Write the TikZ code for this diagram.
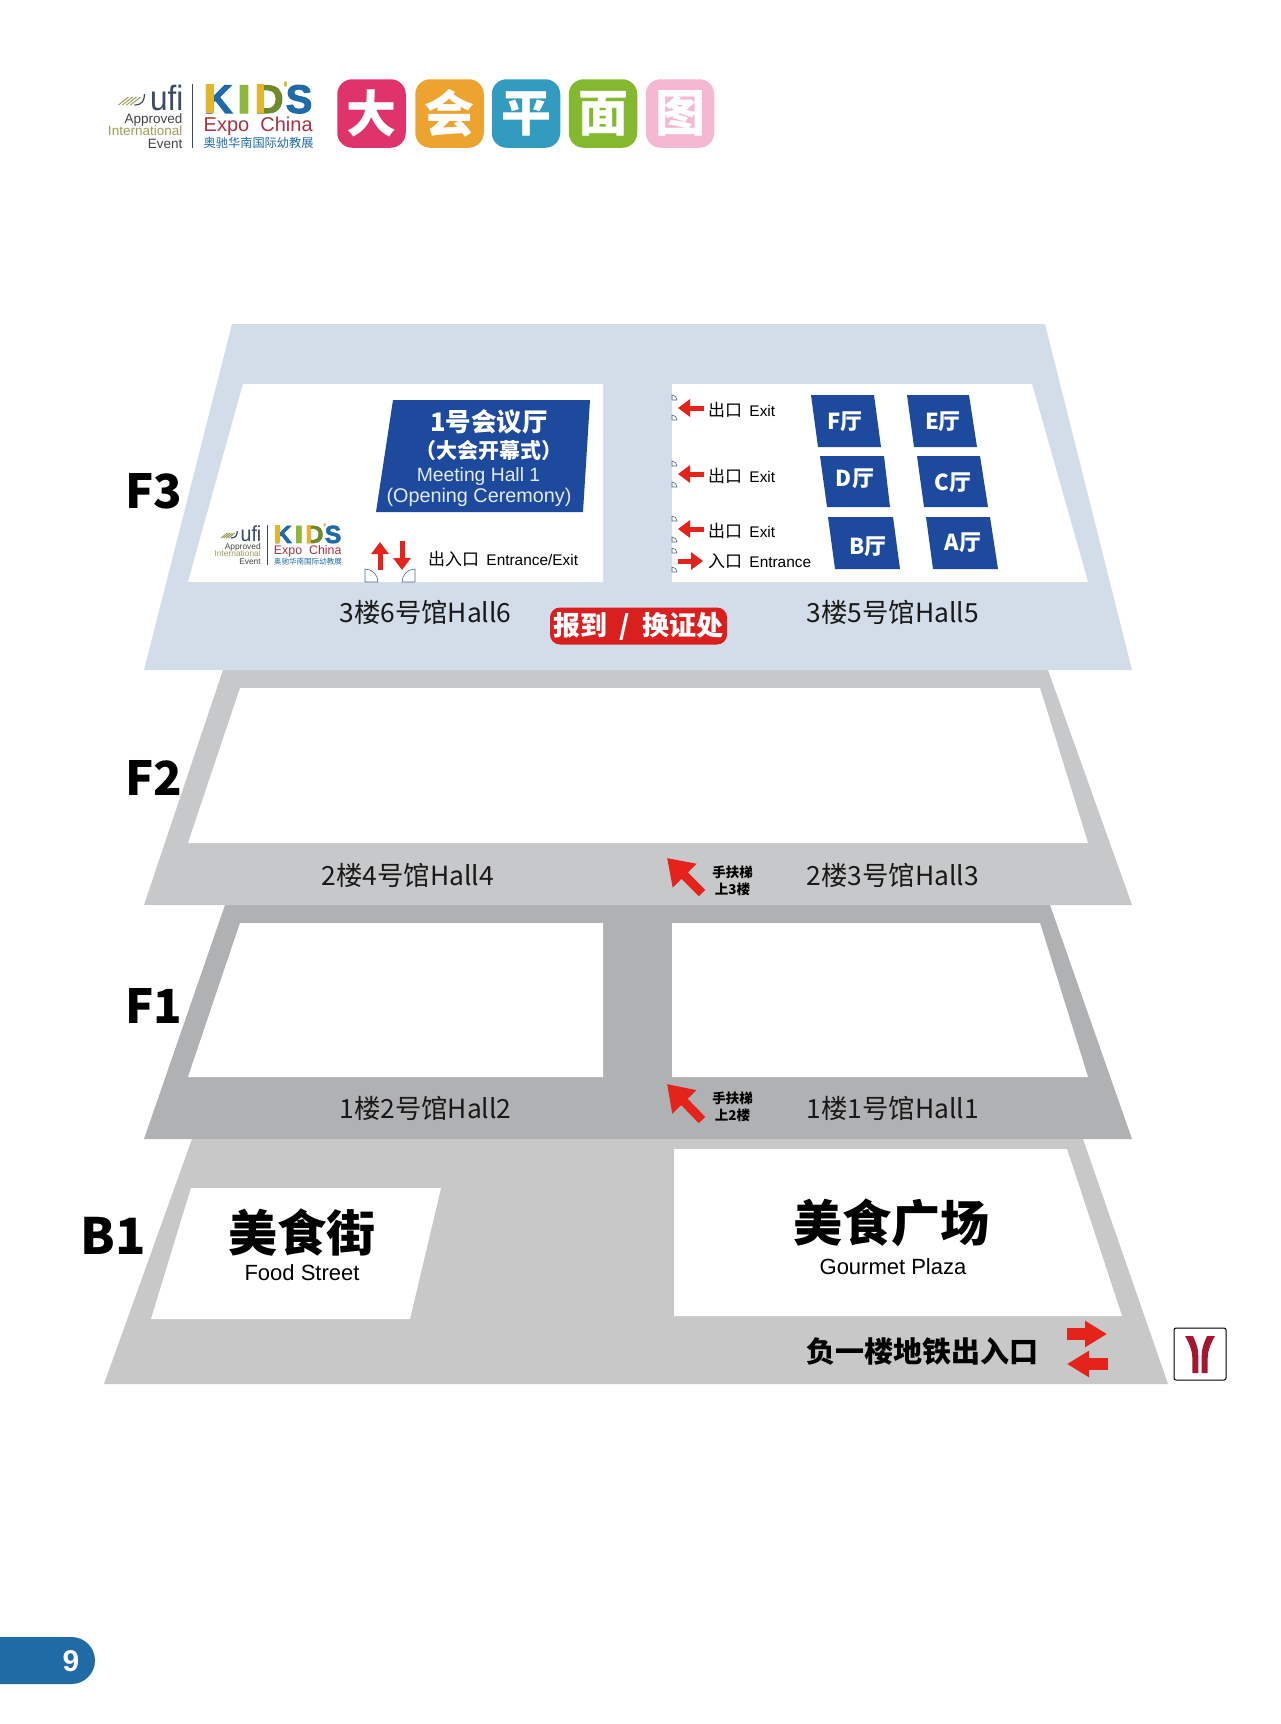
\documentclass[tikz,border=0pt]{standalone}
\usepackage{fontspec}
\setmainfont{Liberation Sans}
\newfontfamily\cjk{Noto Sans CJK SC}
\newfontfamily\logofont[FakeBold=2.5]{Liberation Sans Bold}
\usetikzlibrary{arrows.meta}

\newcommand{\sz}[1]{\fontsize{#1}{#1}\selectfont}

\newcommand{\kidslogo}[3]{%
	\begin{scope}[shift={(#1,#2)},scale=#3,every node/.append style={transform shape,inner sep=0pt}]
		\draw[line width=1pt,color=logoink] (0,0) -- (0,64);
		\draw[line width=1pt,color=logoolive] (-74,21) -- (-64,13);
		\draw[line width=1pt,color=logoolive] (-70,21) -- (-60,13);
		\draw[line width=1pt,color=logoolive] (-66,21) -- (-56,13);
		\draw[line width=1pt,color=logoolive] (-62,21) -- (-52,13);
		\draw[line width=1.2pt,color=logoink] (-58,21) .. controls (-50,21) and (-48,16) .. (-48,10);
		\node[anchor=base east,color=logoink,font=\sz{35},xscale=0.9] (ufi#1) at (-9,26) {ufi};
		\node[anchor=base east,color=logogrey,font=\sz{13.5}] (approved#1) at (-10,39) {Approved};
		\node[anchor=base east,color=logoolive,font=\sz{13.5}] (international#1) at (-10,51.5) {International};
		\node[anchor=base east,color=logogrey,font=\sz{13.5}] (event#1) at (-10,64) {Event};
		\node[anchor=base west,color=logoblue,font=\logofont\sz{40}] (k#1) at (11,29) {K};
		\fill[color=logogold] (13,0) rectangle (21,29);
		\node[anchor=base west,color=logogreen,font=\logofont\sz{40},xscale=1.3] (i#1) at (44,29) {I};
		\node[anchor=base west,color=logostripe,font=\logofont\sz{40}] (d#1) at (62,29) {D};
		\fill[color=logogold] (64,0) rectangle (71,29);
		\node[color=logogold,font=\logofont\sz{18}] (apos#1) at (93,4) {'};
		\node[anchor=base west,color=logoblue,font=\logofont\sz{40}] (s#1) at (93,29) {S};
		\node[anchor=base west,color=logored,font=\sz{20}] (expo#1) at (11,47) {Expo\ \ China};
		\node[anchor=base west,color=logoblue,font=\cjk\sz{12.2}] (south#1) at (11,63) {奥驰华南国际幼教展};
	\end{scope}%
}

\begin{document}
\begin{tikzpicture}[x=1pt,y=-1pt]
	\definecolor{logoink}{HTML}{3A4A68}
	\definecolor{logogrey}{HTML}{444444}
	\definecolor{logoolive}{HTML}{9C9C5C}
	\definecolor{logoblue}{HTML}{1F6BA8}
	\definecolor{logogold}{HTML}{E3B52F}
	\definecolor{logogreen}{HTML}{8DB63C}
	\definecolor{logostripe}{HTML}{6E8A2C}
	\definecolor{logored}{HTML}{A83244}
	\definecolor{floorthree}{HTML}{D3DDE9}
	\definecolor{floortwo}{HTML}{C7C8C9}
	\definecolor{floorone}{HTML}{B0B1B3}
	\definecolor{floorbase}{HTML}{C8C8C8}
	\definecolor{hallblue}{HTML}{1D4A9C}
	\definecolor{signred}{HTML}{E4231B}
	\definecolor{badgered}{HTML}{D9201F}
	\definecolor{doorline}{HTML}{50688A}
	\definecolor{metrored}{HTML}{A3182F}
	\definecolor{pageblue}{HTML}{206AA6}
	\definecolor{tilepink}{HTML}{E0336C}
	\definecolor{tileorange}{HTML}{EDA32F}
	\definecolor{tileblue}{HTML}{339BBF}
	\definecolor{tilegreen}{HTML}{84B82F}
	\definecolor{tilerose}{HTML}{F4B8D3}

	\tikzstyle{every node}=[inner sep=0pt]
	\tikzstyle{room}=[fill=white]
	\tikzstyle{hall}=[fill=hallblue]
	\tikzstyle{floorname}=[font=\cjk\bfseries\sz{47},color=black]
	\tikzstyle{hallname}=[font=\cjk\sz{26.4},color=black!90]
	\tikzstyle{hallletter}=[font=\cjk\bfseries\sz{22},text=white]
	\tikzstyle{tile}=[font=\cjk\bfseries\sz{50},text=white,minimum size=68.5pt,rounded corners=15pt]
	\tikzstyle{door}=[color=doorline,line width=0.6pt]
	\tikzstyle{signarrow}=[color=signred,line width=5pt,-{Triangle[length=12pt,width=17pt]}]
	\tikzstyle{bigarrow}=[color=signred,line width=9pt,-{Triangle[length=25pt,width=32pt]}]
	\tikzstyle{metroarrow}=[color=signred,line width=12pt,-{Triangle[length=22pt,width=25pt]}]

	\useasboundingbox (0,0) rectangle (1280,1724);
	\fill[white] (0,0) rectangle (1280,1724);

	\kidslogo{192.5}{84}{1}
	\node[tile,fill=tilepink] (da) at (371.5,113.5) {大};
	\node[tile,fill=tileorange] (hui) at (449.5,113.5) {会};
	\node[tile,fill=tileblue] (ping) at (526,113.5) {平};
	\node[tile,fill=tilegreen] (mian) at (603,113.5) {面};
	\node[tile,fill=tilerose] (tu) at (680,113.5) {图};

	\fill[floorbase] (192,1139) -- (1083,1139) -- (1168,1384) -- (104,1384) -- cycle;
	\fill[floorone] (225,905) -- (1050,905) -- (1132,1139) -- (144,1139) -- cycle;
	\fill[floortwo] (223,670) -- (1048,670) -- (1132,905) -- (144,905) -- cycle;
	\fill[floorthree] (232,324) -- (1045,324) -- (1132,670) -- (144,670) -- cycle;

	\fill[room] (243,384) -- (603,384) -- (603,582) -- (188,582) -- cycle;
	\fill[room] (672,384) -- (1032,384) -- (1088,582) -- (672,582) -- cycle;
	\fill[room] (240,688) -- (1040,688) -- (1088,843) -- (188,843) -- cycle;
	\fill[room] (240,923) -- (603,923) -- (603,1077) -- (188,1077) -- cycle;
	\fill[room] (672,923) -- (1040,923) -- (1088,1077) -- (672,1077) -- cycle;
	\fill[room] (191,1188) -- (441,1188) -- (410,1319) -- (151,1319) -- cycle;
	\fill[room] (674,1149) -- (1067,1149) -- (1122,1316) -- (674,1316) -- cycle;

	\node[floorname] (f3) at (154,491) {F3};
	\node[floorname] (f2) at (154,778) {F2};
	\node[floorname] (f1) at (154,1006) {F1};
	\node[floorname,font=\cjk\bfseries\sz{50}] (b1) at (113.5,1236) {B1};

	\fill[hall] (393,400) -- (590,400) -- (583,512) -- (376,512) -- cycle;
	\node[font=\cjk\bfseries\sz{25.5},text=white] (meetingzh) at (489,422) {1号会议厅};
	\node[font=\cjk\bfseries\sz{21},text=white] (openingzh) at (489,451) {（大会开幕式）};
	\node[font=\sz{19.3},text=white!88!hallblue] (meetingen) at (478.5,477) {Meeting Hall 1};
	\node[font=\sz{19.8},text=white!88!hallblue] (openingen) at (479,497) {(Opening Ceremony)};

	\kidslogo{267}{525}{0.62}

	\draw[signarrow] (380,570) -- (380,542);
	\draw[signarrow] (402,541) -- (402,570);
	\draw[door] (365,582) -- (365,569) arc[start angle=90,end angle=0,radius=13pt] -- cycle;
	\draw[door] (415,582) -- (415,569) arc[start angle=90,end angle=180,radius=13pt] -- cycle;
	\node[anchor=west,font=\sz{15.4}] (entranceexit) at (428,559.5) {{\cjk\sz{17}出入口}\hspace{3pt} Entrance/Exit};

	\draw[door] (672,400) -- (672,395) arc[start angle=90,end angle=0,radius=5pt] -- cycle;
	\draw[door] (672,420) -- (672,415) arc[start angle=90,end angle=0,radius=5pt] -- cycle;
	\draw[door] (672,466) -- (672,461) arc[start angle=90,end angle=0,radius=5pt] -- cycle;
	\draw[door] (672,487) -- (672,482) arc[start angle=90,end angle=0,radius=5pt] -- cycle;
	\draw[door] (672,521) -- (672,516) arc[start angle=90,end angle=0,radius=5pt] -- cycle;
	\draw[door] (672,542) -- (672,537) arc[start angle=90,end angle=0,radius=5pt] -- cycle;
	\draw[door] (672,553) -- (672,548) arc[start angle=90,end angle=0,radius=5pt] -- cycle;
	\draw[door] (672,572) -- (672,567) arc[start angle=90,end angle=0,radius=5pt] -- cycle;

	\draw[signarrow] (704,408) -- (678,408);
	\draw[signarrow] (704,474) -- (678,474);
	\draw[signarrow] (704,529) -- (678,529);
	\draw[signarrow] (678,561) -- (703,561);
	\node[anchor=west,font=\sz{15.4}] (exita) at (708,410) {{\cjk\sz{17}出口}\hspace{3pt} Exit};
	\node[anchor=west,font=\sz{15.4}] (exitb) at (708,476.5) {{\cjk\sz{17}出口}\hspace{3pt} Exit};
	\node[anchor=west,font=\sz{15.4}] (exitc) at (708,531.5) {{\cjk\sz{17}出口}\hspace{3pt} Exit};
	\node[anchor=west,font=\sz{15.4}] (entrance) at (708,561.5) {{\cjk\sz{17}入口}\hspace{3pt} Entrance};

	\fill[hall] (811,395) -- (874,395) -- (881,447) -- (818,447) -- cycle;
	\fill[hall] (907,395) -- (969,395) -- (977,447) -- (914,447) -- cycle;
	\fill[hall] (820,456) -- (884,456) -- (890,507) -- (827,507) -- cycle;
	\fill[hall] (917,456) -- (980,456) -- (988,507) -- (924,507) -- cycle;
	\fill[hall] (828,517) -- (893,517) -- (900,569) -- (835,569) -- cycle;
	\fill[hall] (926,517) -- (990,517) -- (998,569) -- (933,569) -- cycle;
	\node[hallletter] (hallf) at (845,422) {F厅};
	\node[hallletter] (halle) at (943,422) {E厅};
	\node[hallletter] (halld) at (855,479) {D厅};
	\node[hallletter] (hallc) at (953,483) {C厅};
	\node[hallletter] (hallb) at (868,547) {B厅};
	\node[hallletter] (halla) at (963,543) {A厅};

	\node[hallname] (hall6) at (425.5,612) {3楼6号馆Hall6};
	\node[hallname] (hall5) at (893,612) {3楼5号馆Hall5};
	\node[hallname] (hall4) at (408,875) {2楼4号馆Hall4};
	\node[hallname] (hall3) at (893,875) {2楼3号馆Hall3};
	\node[hallname] (hall2) at (425.5,1108) {1楼2号馆Hall2};
	\node[hallname] (hall1) at (893,1108) {1楼1号馆Hall1};

	\node[fill=badgered,rounded corners=10pt,minimum width=177pt,minimum height=37pt,font=\cjk\bfseries\sz{27},text=white] (register) at (638.5,626) {报到\ \ /\ \ 换证处};

	\draw[bigarrow] (702,893) -- (667,858);
	\draw[bigarrow] (702,1120) -- (667,1084);
	\node[font=\cjk\bfseries\sz{13.5}] (escathree) at (732.5,872) {手扶梯};
	\node[font=\cjk\bfseries\sz{13.5}] (upthree) at (732.5,889) {上3楼};
	\node[font=\cjk\bfseries\sz{13.5}] (escatwo) at (732.5,1098) {手扶梯};
	\node[font=\cjk\bfseries\sz{13.5}] (uptwo) at (732.5,1115) {上2楼};

	\node[font=\cjk\bfseries\sz{49}] (foodzh) at (302,1233) {美食街};
	\node[font=\sz{22}] (fooden) at (302,1273) {Food Street};
	\node[font=\cjk\bfseries\sz{49}] (plazazh) at (891,1223) {美食广场};
	\node[font=\sz{22}] (plazaen) at (893,1267) {Gourmet Plaza};
	\node[font=\cjk\bfseries\sz{29}] (subway) at (922,1352) {负一楼地铁出入口};

	\draw[metroarrow] (1067,1334) -- (1107,1334);
	\draw[metroarrow] (1108,1364) -- (1067,1364);

	\draw[rounded corners=2pt,line width=1pt,fill=white] (1174,1328) rectangle (1226,1380);
	\fill[metrored] (1185,1336) -- (1193,1336) .. controls (1197,1345) and (1198.3,1349) .. (1198.3,1356) -- (1198.3,1373) -- (1192.3,1373) -- (1192.3,1358) .. controls (1192.3,1350) and (1189,1343) .. (1185,1336) -- cycle;
	\fill[metrored] (1215,1336) -- (1207,1336) .. controls (1203,1345) and (1201.7,1349) .. (1201.7,1356) -- (1201.7,1373) -- (1207.7,1373) -- (1207.7,1358) .. controls (1207.7,1350) and (1211,1343) .. (1215,1336) -- cycle;

	\fill[pageblue] (0,1637) -- (71.5,1637) arc[start angle=90,end angle=-90,radius=23.5pt] -- (0,1684) -- cycle;
	\node[font=\bfseries\sz{30},text=white] (page) at (71,1661) {9};
\end{tikzpicture}
\end{document}
